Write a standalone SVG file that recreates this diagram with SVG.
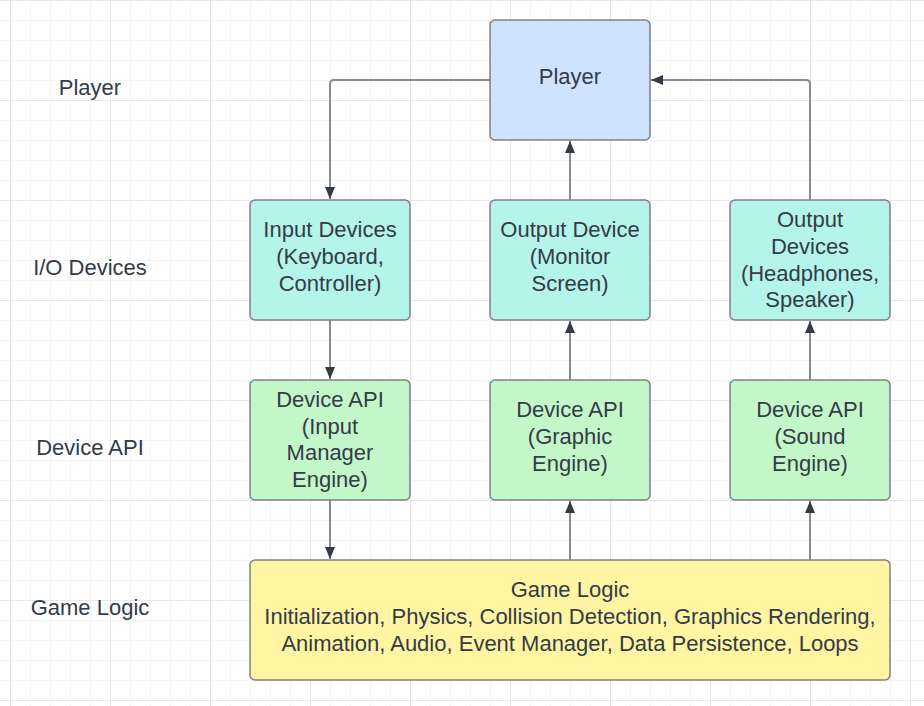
<svg xmlns="http://www.w3.org/2000/svg" width="924" height="706" viewBox="0 0 924 706">
<defs>
<pattern id="minor" x="10" y="0" width="20" height="20" patternUnits="userSpaceOnUse">
<path d="M0 0H20M0 0V20" fill="none" stroke="#ececec" stroke-width="1"/>
</pattern>
<pattern id="major" x="10" y="0" width="100" height="100" patternUnits="userSpaceOnUse">
<path d="M0 0H100M0 0V100" fill="none" stroke="#dcdcdc" stroke-width="1.2"/>
</pattern>
<marker id="arr" viewBox="0 0 12 10" refX="12" refY="5" markerWidth="12" markerHeight="10" markerUnits="userSpaceOnUse" orient="auto">
<path d="M0 0L12 5L0 10Z" fill="#333b47"/>
</marker>
</defs>
<style>
.box{stroke:#7d8086;stroke-width:1.5}
.player{fill:#cfe3ff}
.io{fill:#b5f4ea}
.api{fill:#c3f7c9}
.logic{fill:#fff5a3}
text{font-family:"Liberation Sans",Arial,sans-serif;font-size:22px;fill:#333b47;text-anchor:middle}
.conn path{fill:none;stroke:#888b90;stroke-width:2;marker-end:url(#arr)}
</style>
<rect width="924" height="706" fill="#ffffff"/>
<rect x="0" y="0" width="924" height="706" fill="url(#minor)"/>
<rect x="0" y="0" width="924" height="706" fill="url(#major)"/>

<g id="label-player"><text x="90" y="95">Player</text></g>
<g id="label-io"><text x="90" y="275">I/O Devices</text></g>
<g id="label-api"><text x="90" y="455">Device API</text></g>
<g id="label-logic"><text x="90" y="615">Game Logic</text></g>

<g class="conn">
<path d="M490 80H334Q330 80 330 84V199"/>
<path d="M810 200V84Q810 80 806 80H651"/>
<path d="M570 200V141"/>
<path d="M330 320V379"/>
<path d="M570 380V321"/>
<path d="M810 380V321"/>
<path d="M330 500V559"/>
<path d="M570 560V501"/>
<path d="M810 560V501"/>
</g>

<g id="player"><rect class="box player" x="490" y="20" width="160" height="120" rx="5"/><text x="570" y="84">Player</text></g>
<g id="input-devices"><rect class="box io" x="250" y="200" width="160" height="120" rx="5"/><text x="330" y="237">Input Devices</text><text x="330" y="264">(Keyboard,</text><text x="330" y="291">Controller)</text></g>
<g id="output-device"><rect class="box io" x="490" y="200" width="160" height="120" rx="5"/><text x="570" y="237">Output Device</text><text x="570" y="264">(Monitor</text><text x="570" y="291">Screen)</text></g>
<g id="output-devices"><rect class="box io" x="730" y="200" width="160" height="120" rx="5"/><text x="810" y="227">Output</text><text x="810" y="254">Devices</text><text x="810" y="281">(Headphones,</text><text x="810" y="307">Speaker)</text></g>
<g id="api-input"><rect class="box api" x="250" y="380" width="160" height="120" rx="5"/><text x="330" y="407">Device API</text><text x="330" y="434">(Input</text><text x="330" y="460">Manager</text><text x="330" y="487">Engine)</text></g>
<g id="api-graphic"><rect class="box api" x="490" y="380" width="160" height="120" rx="5"/><text x="570" y="417">Device API</text><text x="570" y="444">(Graphic</text><text x="570" y="471">Engine)</text></g>
<g id="api-sound"><rect class="box api" x="730" y="380" width="160" height="120" rx="5"/><text x="810" y="417">Device API</text><text x="810" y="444">(Sound</text><text x="810" y="471">Engine)</text></g>
<g id="game-logic"><rect class="box logic" x="250" y="560" width="640" height="120" rx="5"/><text x="570" y="597">Game Logic</text><text x="570" y="624">Initialization, Physics, Collision Detection, Graphics Rendering,</text><text x="570" y="651">Animation, Audio, Event Manager, Data Persistence, Loops</text></g>
</svg>
